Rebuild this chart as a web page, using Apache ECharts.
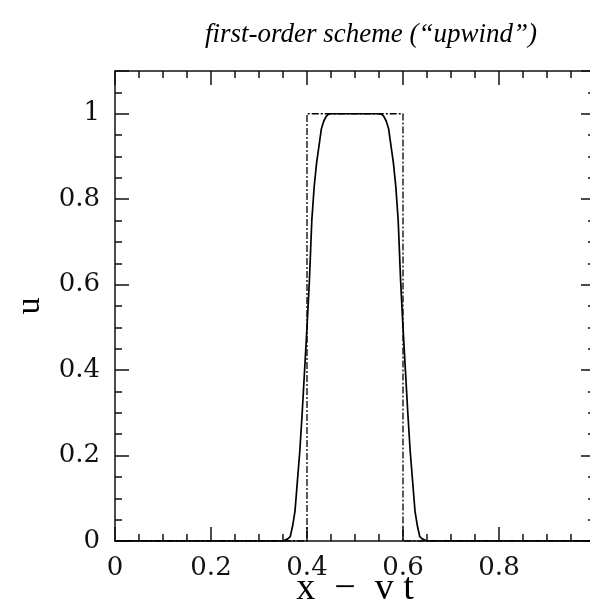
<!DOCTYPE html>
<html>
<head>
<meta charset="utf-8">
<script src="https://cdn.jsdelivr.net/npm/echarts@6/dist/echarts.min.js"></script>
<style>html,body{margin:0;padding:0;background:#fff}#c{width:590px;height:607px}</style>
</head>
<body>
<div id="c"></div>
<script>
// numerical (upwind) solution
var numX = [0, 0.35, 0.36, 0.365, 0.37, 0.375, 0.38, 0.385, 0.39, 0.395, 0.40, 0.405, 0.41, 0.415, 0.42, 0.425, 0.43, 0.435, 0.44, 0.445, 0.45,
            0.55, 0.555, 0.56, 0.565, 0.57, 0.575, 0.58, 0.585, 0.59, 0.595, 0.60, 0.605, 0.61, 0.615, 0.62, 0.625, 0.63, 0.635, 0.64, 0.65, 1.0];
var numU = [0, 0, 0.005, 0.01, 0.035, 0.07, 0.14, 0.21, 0.30, 0.40, 0.50, 0.61, 0.75, 0.83, 0.885, 0.925, 0.965, 0.983, 0.994, 0.999, 1,
            1, 0.999, 0.994, 0.983, 0.965, 0.925, 0.885, 0.83, 0.75, 0.61, 0.50, 0.40, 0.30, 0.21, 0.14, 0.07, 0.035, 0.01, 0.005, 0, 0];
// exact solution (square pulse)
var exactX = [0, 0.4, 0.4, 0.6, 0.6, 1.0];
var exactU = [0, 0, 1, 1, 0, 0];

var titleText = 'first-order scheme (\u201Cupwind\u201D)';
var xName = 'x\u00A0\u00A0\u2212\u00A0\u00A0v\u00A0t';
var yName = 'u';

function zip(a, b) { return a.map(function (v, i) { return [v, b[i]]; }); }

var FONT = 'DejaVu Serif';
var NAMEFONT = 'Liberation Serif';
var ink = '#111';
function xFmt(v) {
  var k = Math.round(v / 0.2);
  if (Math.abs(v - k * 0.2) > 1e-6 || v > 0.9) return '';
  return String(+(k * 0.2).toFixed(1));
}
function yFmt(v) {
  var k = Math.round(v / 0.2);
  if (Math.abs(v - k * 0.2) > 1e-6 || v > 1.05) return '';
  return String(+(k * 0.2).toFixed(1));
}
function mkX(pos, major, labels) {
  return {
    type: 'value', position: pos, min: 0, max: 1.0, interval: major ? 0.2 : 0.05,
    axisLine: { show: major, onZero: false, lineStyle: { color: ink, width: 1.5 } },
    axisTick: { show: true, inside: true, length: major ? 14 : 7, lineStyle: { color: ink, width: 1.5 } },
    axisLabel: { show: labels, margin: 14, fontFamily: FONT, fontSize: 26, color: '#111', formatter: xFmt },
    splitLine: { show: false },
    name: labels ? xName : '', nameLocation: 'middle', nameGap: 29, nameMoveOverlap: false,
    nameTextStyle: { fontFamily: NAMEFONT, fontSize: 38, color: '#000' }
  };
}
function mkY(pos, major, labels) {
  return {
    type: 'value', position: pos, min: 0, max: 1.1, interval: major ? 0.2 : 0.05,
    axisLine: { show: major, onZero: false, lineStyle: { color: ink, width: 1.5 } },
    axisTick: { show: true, inside: true, length: major ? 14 : 7, lineStyle: { color: ink, width: 1.5 } },
    axisLabel: { show: labels, margin: 15, fontFamily: FONT, fontSize: 26, color: '#111', formatter: yFmt },
    splitLine: { show: false },
    name: labels ? yName : '', nameLocation: 'middle', nameGap: 68, nameRotate: 90, nameMoveOverlap: false,
    nameTextStyle: { fontFamily: NAMEFONT, fontSize: 34, color: '#000' }
  };
}

var chart = echarts.init(document.getElementById('c'), null, { renderer: 'canvas' });
chart.setOption({
  animation: false,
  backgroundColor: '#fff',
  title: {
    text: titleText, left: 366, top: 16, textAlign: 'center',
    textStyle: { fontFamily: NAMEFONT, fontStyle: 'italic', fontWeight: 'normal', fontSize: 27, color: '#000' }
  },
  grid: { left: 115, top: 71, width: 480, height: 470, containLabel: false, outerBoundsMode: 'none' },
  xAxis: [mkX('bottom', true, true), mkX('bottom', false, false), mkX('top', true, false), mkX('top', false, false)],
  yAxis: [mkY('left', true, true), mkY('left', false, false), mkY('right', true, false), mkY('right', false, false)],
  series: [
    {
      type: 'line', data: zip(exactX, exactU), showSymbol: false, symbol: 'none',
      lineStyle: { color: '#000', width: 1.3, type: [7, 2, 2, 2] }
    },
    {
      type: 'line', data: zip(numX, numU), showSymbol: false, symbol: 'none',
      lineStyle: { color: '#000', width: 1.7 }
    }
  ]
});
</script>
</body>
</html>
